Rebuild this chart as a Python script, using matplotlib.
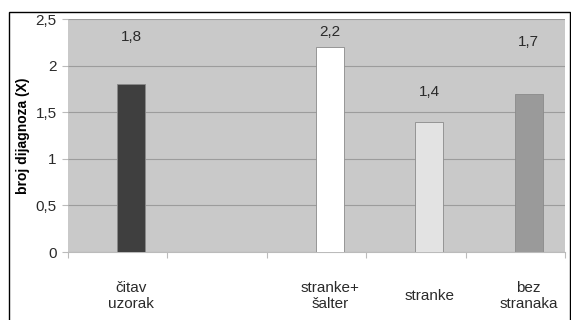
import matplotlib.pyplot as plt
from matplotlib.patches import Rectangle
from matplotlib.ticker import FuncFormatter

plt.rcParams['font.family'] = ['Liberation Sans', 'DejaVu Sans']

categories = ['čitav\nuzorak', '', 'stranke+\nšalter', 'stranke', 'bez\nstranaka']
bar_idx = [0, 2, 3, 4]
values = [1.8, 2.2, 1.4, 1.7]
value_labels = ['1,8', '2,2', '1,4', '1,7']
label_y = [2.31, 2.36, 1.72, 2.25]
bar_colors = ['#3f3f3f', '#ffffff', '#e3e3e3', '#9a9a9a']

fig = plt.figure(figsize=(5.71, 3.2), dpi=100)
ax = fig.add_axes([0.119, 0.2125, 0.8705, 0.7281])
ax.set_facecolor('#c9c9c9')

off = 0.135
xs = [i + off for i in bar_idx]
ax.bar(xs, values, width=0.28, color=bar_colors, edgecolor='#8a8a8a', linewidth=0.6, zorder=3)

for x, y, t in zip(xs, label_y, value_labels):
    ax.text(x, y, t, ha='center', va='center', fontsize=11, color='#2a2a2a')

for i, c in enumerate(categories):
    if c:
        ax.text(i + off, -0.189, c, transform=ax.get_xaxis_transform(),
                ha='center', va='center', fontsize=11, color='#2a2a2a', linespacing=1.1)

ax.set_xlim(-0.5, len(categories) - 0.5)
ax.set_ylim(0, 2.5)
ax.set_yticks([0, 0.5, 1, 1.5, 2, 2.5])
ax.yaxis.set_major_formatter(FuncFormatter(lambda v, p: ('%g' % v).replace('.', ',')))
ax.grid(axis='y', color='#9c9c9c', linewidth=0.8, zorder=1)
ax.set_axisbelow(True)

ax.set_xticks([i - 0.5 for i in range(len(categories) + 1)])
ax.set_xticklabels([])
ax.tick_params(axis='x', length=4, color='#bbbbbb', width=0.8)
ax.tick_params(axis='y', length=4, color='#bbbbbb', width=0.8, labelsize=11,
               labelcolor='#2a2a2a', pad=4)

for s in ['top', 'right', 'left']:
    ax.spines[s].set_visible(False)
ax.spines['bottom'].set_color('#bbbbbb')

ax.set_ylabel('broj dijagnoza (X)', fontsize=10, fontweight='bold', labelpad=4)

fig.patches.append(Rectangle((9 / 571, -0.05), 561 / 571, 1.05 - 12 / 320,
                             transform=fig.transFigure, fill=False,
                             edgecolor='black', linewidth=1))

fig.savefig('out.png', dpi=100)
